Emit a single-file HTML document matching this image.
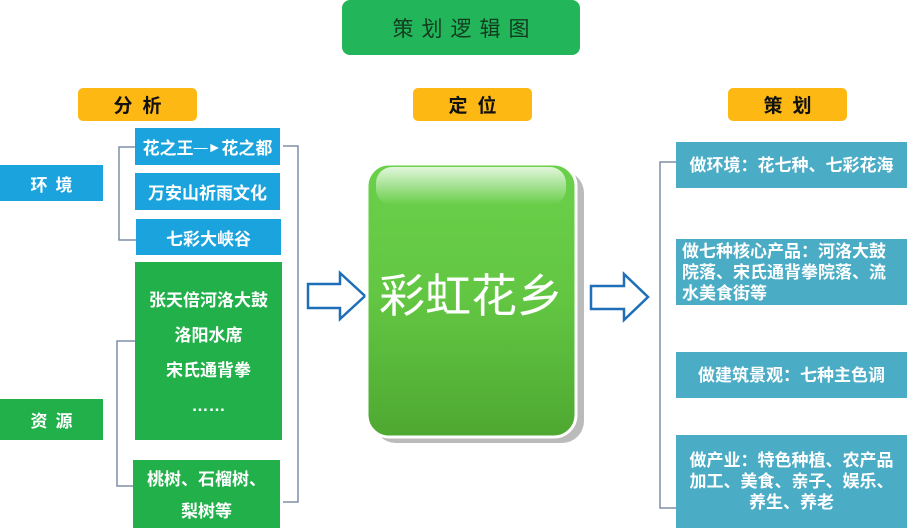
<!DOCTYPE html>
<html><head><meta charset="utf-8"><style>
body{margin:0;width:907px;height:528px;background:#fff;position:relative;overflow:hidden;font-family:"Liberation Sans","Noto Sans CJK SC",sans-serif}
div{position:absolute;box-sizing:border-box}
.t{display:flex;align-items:center;justify-content:center;text-align:center;color:#fff;font-weight:bold}
.or{background:#fdb813;border-radius:5px;color:#111;font-size:19px;letter-spacing:10px;text-indent:10px;font-weight:bold}
.bl{background:#1aa3dc;font-size:17px}
.gr{background:#22b04b;font-size:17px}
.rb{background:#4bacc6;font-size:17px;line-height:21px}
</style></head><body>
<div class="t" style="left:342px;top:0;width:238px;height:55px;background:#22b55a;border-radius:8px;color:#143a20;font-weight:normal;font-size:21px;letter-spacing:8px;text-indent:8px">策划逻辑图</div>
<div class="t or" style="left:78px;top:88px;width:119px;height:33px">分析</div>
<div class="t or" style="left:413px;top:88px;width:119px;height:33px">定位</div>
<div class="t or" style="left:728px;top:88px;width:119px;height:33px">策划</div>

<div class="t bl" style="left:0;top:165px;width:103px;height:36px;letter-spacing:8px;text-indent:8px">环境</div>
<div class="t gr" style="left:0;top:399px;width:103px;height:41px;letter-spacing:8px;text-indent:8px">资源</div>

<div class="t bl" style="left:135px;top:128px;width:145px;height:37px;white-space:nowrap">花之王<span style="font-weight:normal;font-size:14px">—►</span>花之都</div>
<div class="t bl" style="left:135px;top:173px;width:145px;height:37px">万安山祈雨文化</div>
<div class="t bl" style="left:136px;top:219px;width:145px;height:36px">七彩大峡谷</div>
<div class="t gr" style="left:135px;top:262px;width:147px;height:178px;flex-direction:column;line-height:35px;padding-top:4px">张天倍河洛大鼓<br>洛阳水席<br>宋氏通背拳<br>……</div>
<div class="t gr" style="left:133px;top:460px;width:147px;height:68px;line-height:32px;padding-top:4px">桃树、石榴树、<br>梨树等</div>

<svg style="position:absolute;left:0;top:0" width="907" height="528">
<g fill="none" stroke="#7f8fa6" stroke-width="1.5">
<path d="M135 147 H119 V240 H136"/>
<path d="M135 341 H117 V486 H133"/>
<path d="M283 146 H298 V502 H283"/>
<path d="M676 162 H660 V508 H676"/>
</g>
<g fill="#fff" stroke="#1e6fb8" stroke-width="2.5">
<path d="M308 284 H340 V273 L365 296 L340 319 V308 H308 Z"/>
<path d="M591 286 H624 V274 L648 297 L624 320 V309 H591 Z"/>
</g>
<defs><linearGradient id="g" x1="0" y1="0" x2="0" y2="1"><stop offset="0" stop-color="#6ad04a"/><stop offset="0.5" stop-color="#62c642"/><stop offset="1" stop-color="#4ea831"/></linearGradient>
<linearGradient id="h" x1="0" y1="0" x2="0" y2="1"><stop offset="0" stop-color="#fff" stop-opacity="0.8"/><stop offset="1" stop-color="#fff" stop-opacity="0"/></linearGradient></defs>
<rect x="374" y="171" width="210" height="272" rx="22" fill="#bbb"/>
<rect x="367" y="164" width="209" height="273" rx="22" fill="url(#g)" stroke="#fff" stroke-width="3"/>
<rect x="376" y="167" width="190" height="38" rx="16" fill="url(#h)"/>
<text x="471" y="312" text-anchor="middle" fill="#fff" font-size="46" font-family="Liberation Sans,Noto Sans CJK SC,sans-serif">彩虹花乡</text>
</svg>

<div class="t rb" style="left:676px;top:142px;width:231px;height:46px">做环境：花七种、七彩花海</div>
<div class="rb" style="left:676px;top:239px;width:231px;height:66px;color:#fff;font-weight:bold;padding:2px 0 0 6px;white-space:nowrap">做七种核心产品：河洛大鼓<br>院落、宋氏通背拳院落、流<br>水美食街等</div>
<div class="t rb" style="left:676px;top:352px;width:231px;height:46px">做建筑景观：七种主色调</div>
<div class="t rb" style="left:676px;top:435px;width:231px;height:93px;white-space:nowrap">做产业：特色种植、农产品<br>加工、美食、亲子、娱乐、<br>养生、养老</div>
</body></html>
